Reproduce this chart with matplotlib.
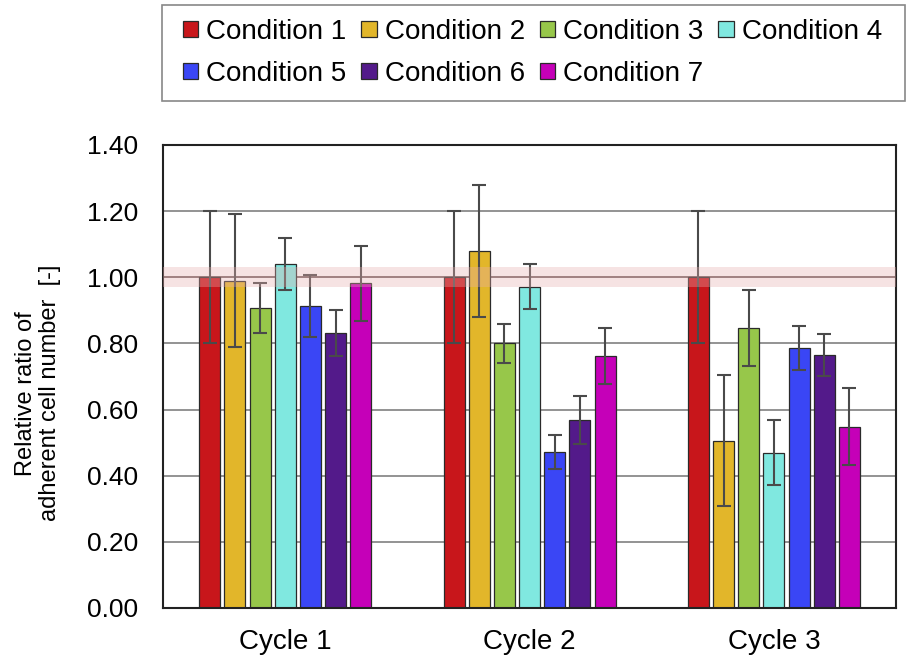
import numpy as np
import matplotlib
matplotlib.use('Agg')
import matplotlib.pyplot as plt
from matplotlib.patches import Rectangle
from matplotlib.ticker import FormatStrFormatter

plt.rcParams['font.family'] = ['Liberation Sans', 'DejaVu Sans']

cycles = ['Cycle 1', 'Cycle 2', 'Cycle 3']
conditions = ['Condition 1', 'Condition 2', 'Condition 3', 'Condition 4',
              'Condition 5', 'Condition 6', 'Condition 7']
colors = ['#C8161B', '#E2B62A', '#97C74A', '#80E8E0', '#3A46F5', '#531A8A', '#C500B8']

# mean values per condition, one entry per cycle
means = [
    [1.00, 1.00, 1.00],
    [0.99, 1.08, 0.505],
    [0.907, 0.80, 0.846],
    [1.04, 0.971, 0.47],
    [0.913, 0.472, 0.786],
    [0.832, 0.569, 0.764],
    [0.982, 0.761, 0.548],
]
errors = [
    [0.20, 0.20, 0.20],
    [0.20, 0.20, 0.198],
    [0.076, 0.058, 0.114],
    [0.08, 0.068, 0.099],
    [0.093, 0.051, 0.067],
    [0.07, 0.072, 0.064],
    [0.113, 0.085, 0.116],
]
yticks = [0.0, 0.2, 0.4, 0.6, 0.8, 1.0, 1.2, 1.4]


def main():
    W, H = 906, 659
    fig = plt.figure(figsize=(W / 100, H / 100), dpi=100)
    ax = fig.add_axes([0.18, 0.0774, 0.809, 0.7026])

    x = np.arange(len(cycles))
    step = 0.103
    width = 0.086
    handles = []
    for i, (name, c) in enumerate(zip(conditions, colors)):
        h = ax.bar(x + (i - 3) * step, means[i], width, color=c, edgecolor='#2a2a2a',
                   linewidth=0.9, label=name, zorder=2)
        handles.append(h)
        ax.errorbar(x + (i - 3) * step, means[i], yerr=errors[i], fmt='none',
                    ecolor='#4a4a4a', elinewidth=1.5, capsize=5, capthick=1.5, zorder=3)

    # reference band around 1.00
    ax.axhspan(0.972, 1.03, color='#e8b0b0', alpha=0.35, lw=0, zorder=4)
    ax.axhline(1.0, color='#7a6464', lw=1.2, zorder=1.5)

    ax.set_xlim(-0.5, 2.5)
    ax.set_ylim(0, 1.4)
    ax.set_yticks(yticks)
    ax.yaxis.set_major_formatter(FormatStrFormatter('%.2f'))
    ax.set_xticks(x)
    ax.set_xticklabels(cycles)
    ax.tick_params(axis='y', length=0, labelsize=19, pad=18)
    ax.tick_params(axis='x', length=0, labelsize=20, pad=15)
    ax.yaxis.grid(True, color='#808080', lw=1.2, zorder=0)
    ax.set_axisbelow(True)
    for s in ax.spines.values():
        s.set_color('#222222')
        s.set_linewidth(1.5)

    ax.set_ylabel('Relative ratio of\nadherent cell number  [-]', fontsize=17,
                  linespacing=1.15)
    ax.yaxis.set_label_coords(-0.139, 0.464)

    # legend box drawn separately so the entries can sit where the original has them
    fig.patches.append(Rectangle((162 / W, 1 - 101 / H), 743 / W, 96 / H,
                                 transform=fig.transFigure, fill=False,
                                 edgecolor='#888888', lw=1.2))

    # row-major order: matplotlib fills legend columns first
    order = [0, 4, 1, 5, 2, 6, 3]
    fig.legend([handles[k] for k in order], [conditions[k] for k in order],
               loc='upper left', ncol=4, mode='expand', borderaxespad=0,
               bbox_to_anchor=(169 / W, 1 - 101 / H, 727 / W, 96 / H),
               fontsize=20, frameon=False,
               handlelength=0.55, handleheight=0.55, handletextpad=0.3,
               columnspacing=0.6, borderpad=0.5, labelspacing=0.57)

    fig.savefig('out.png', dpi=100)


if __name__ == '__main__':
    main()
